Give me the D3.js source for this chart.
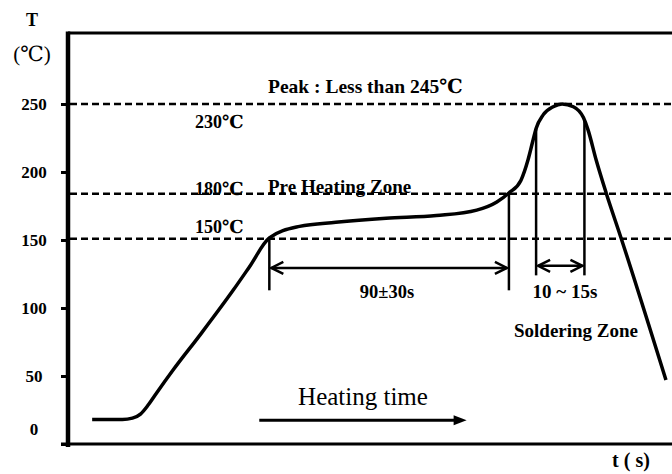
<!DOCTYPE html>
<html>
<head>
<meta charset="utf-8">
<script src="https://cdn.jsdelivr.net/npm/d3@7"></script>
<style>
  body { margin: 0; background: #fff; }
  text { font-family: "Liberation Serif", "DejaVu Serif", serif; fill: #000; }
</style>
</head>
<body>
<svg id="chart" width="672" height="474"></svg>
<script>
// reflow profile (t in s, T in degC)
var timeVals = [12, 27, 32, 36, 40, 44, 52, 66, 82, 90, 100, 115, 133, 158, 183, 203, 213, 219, 225, 228.5, 231, 232.5, 236, 241, 245.4, 251, 256, 258.3, 262.3, 267.3, 274.7, 297];
var tempVals = [18, 18, 19, 22, 29, 37.5, 54, 81, 113, 130, 151.5, 160, 163, 166, 168, 172, 178, 184.6, 194, 209, 223.5, 232, 242, 248, 250, 248, 240, 231, 209, 184.6, 151.5, 47];

var tempTickVals = [0, 50, 100, 150, 200, 250];
var tempTickLbls = ["0", "50", "100", "150", "200", "250"];

// dashed guide lines
var guideTemps = [250, 184, 151];

// vertical markers on the curve
var markTimes = [100, 219, 232.5, 256.5];
var markTops = [151, 185, 232, 238];
var markBottoms = [113, 113, 124, 124];

// dimension arrows [from t, to t, at T]
var spanFrom = [100, 232.5];
var spanTo = [219, 256.5];
var spanTemp = [129.5, 131];

var heatFrom = 95, heatTo = 198, heatTemp = 17.5;

var LEFT = 68, RIGHT = 672, TOP = 33, BOTTOM = 444;

var svg = d3.select("#chart");

var xScale = d3.scaleLinear()
    .domain([0, 300])
    .range([LEFT, RIGHT]);

var yScale = d3.scaleLinear()
    .domain([0, 250])
    .range([BOTTOM, 104]);

// frame
svg.append("line")
    .attr("x1", LEFT).attr("x2", RIGHT)
    .attr("y1", TOP).attr("y2", TOP)
    .style("stroke", "#000").style("stroke-width", 3);

svg.append("line")
    .attr("x1", 61).attr("x2", RIGHT)
    .attr("y1", BOTTOM).attr("y2", BOTTOM)
    .style("stroke", "#000").style("stroke-width", 3);

svg.append("line")
    .attr("x1", LEFT).attr("x2", LEFT)
    .attr("y1", TOP - 1.5).attr("y2", BOTTOM + 3)
    .style("stroke", "#000").style("stroke-width", 4.5);

// y axis ticks + labels
var yAxis = d3.axisLeft(yScale)
    .tickValues(tempTickVals)
    .tickFormat(function(d, i) { return tempTickLbls[i]; })
    .tickSize(7);

var axG = svg.append("g")
    .attr("transform", "translate(" + LEFT + ",0)")
    .call(yAxis);

axG.select(".domain").remove();
axG.selectAll("line").style("stroke", "#000").style("stroke-width", 3);
axG.selectAll("text")
    .attr("x", -34)
    .attr("text-anchor", "middle")
    .style("font-family", "Liberation Serif")
    .style("font-size", "17px")
    .style("font-weight", "bold")
    .style("fill", "#000");
axG.selectAll(".tick").filter(function(d) { return d == 0; })
    .select("text").attr("y", -15);

// dashed guides
svg.selectAll(".guide")
    .data(guideTemps)
    .enter()
    .append("line")
    .attr("class", "guide")
    .attr("x1", LEFT + 2).attr("x2", RIGHT)
    .attr("y1", d => yScale(d)).attr("y2", d => yScale(d))
    .style("stroke", "#000")
    .style("stroke-width", 2.5)
    .style("stroke-dasharray", "7,4");

// profile curve
var profile = timeVals.map(function(t, i) { return [t, tempVals[i]]; });

var line = d3.line()
    .x(d => xScale(d[0]))
    .y(d => yScale(d[1]))
    .curve(d3.curveMonotoneX);

svg.append("path")
    .datum(profile)
    .attr("d", line)
    .style("fill", "none")
    .style("stroke", "#000")
    .style("stroke-width", 3.5);

// vertical markers
svg.selectAll(".mark")
    .data(markTimes)
    .enter()
    .append("line")
    .attr("class", "mark")
    .attr("x1", d => xScale(d)).attr("x2", d => xScale(d))
    .attr("y1", (d, i) => yScale(markTops[i]))
    .attr("y2", (d, i) => yScale(markBottoms[i]))
    .style("stroke", "#000")
    .style("stroke-width", 2.5);

// double arrows with open heads
spanFrom.forEach(function(t0, i) {
    var x0 = xScale(t0) + 2, x1 = xScale(spanTo[i]) - 2, y = yScale(spanTemp[i]);
    svg.append("line")
        .attr("x1", x0).attr("x2", x1)
        .attr("y1", y).attr("y2", y)
        .style("stroke", "#000").style("stroke-width", 2.5);
    svg.append("path")
        .attr("d", "M" + (x0 + 12) + "," + (y - 6) + "L" + x0 + "," + y + "L" + (x0 + 12) + "," + (y + 6))
        .style("fill", "none").style("stroke", "#000").style("stroke-width", 2.5);
    svg.append("path")
        .attr("d", "M" + (x1 - 12) + "," + (y - 6) + "L" + x1 + "," + y + "L" + (x1 - 12) + "," + (y + 6))
        .style("fill", "none").style("stroke", "#000").style("stroke-width", 2.5);
});

// heating time arrow
var hx0 = xScale(heatFrom), hx1 = xScale(heatTo), hy = yScale(heatTemp);
svg.append("line")
    .attr("x1", hx0).attr("x2", hx1 - 10)
    .attr("y1", hy).attr("y2", hy)
    .style("stroke", "#000").style("stroke-width", 3);
svg.append("path")
    .attr("d", "M" + hx1 + "," + hy + "L" + (hx1 - 13) + "," + (hy - 5) + "L" + (hx1 - 13) + "," + (hy + 5) + "Z")
    .style("fill", "#000");

// texts
function add_text(txt, x, y, size, weight, anchor) {
    svg.append("text")
        .attr("x", x)
        .attr("y", y)
        .attr("text-anchor", anchor || "start")
        .style("font-size", size + "px")
        .style("font-weight", weight || "normal")
        .text(txt);
}

add_text("T", 32, 26, 18, "bold", "middle");
add_text("(℃)", 32, 61, 21, "normal", "middle");
add_text("Peak  : Less than 245℃", 268, 93, 19.5, "bold");
add_text("230℃", 195, 128, 18, "bold");
add_text("180℃", 195, 195, 18, "bold");
add_text("Pre Heating Zone", 268, 193, 19, "bold");
add_text("150℃", 195, 233, 18, "bold");
add_text("90±30s", 387, 298, 18.5, "bold", "middle");
add_text("10 ~ 15s", 565, 298, 19, "bold", "middle");
add_text("Soldering Zone", 576, 337, 19, "bold", "middle");
add_text("Heating time", 363, 405, 25, "normal", "middle");
add_text("t ( s)", 631, 467, 20, "bold", "middle");
</script>
</body>
</html>
